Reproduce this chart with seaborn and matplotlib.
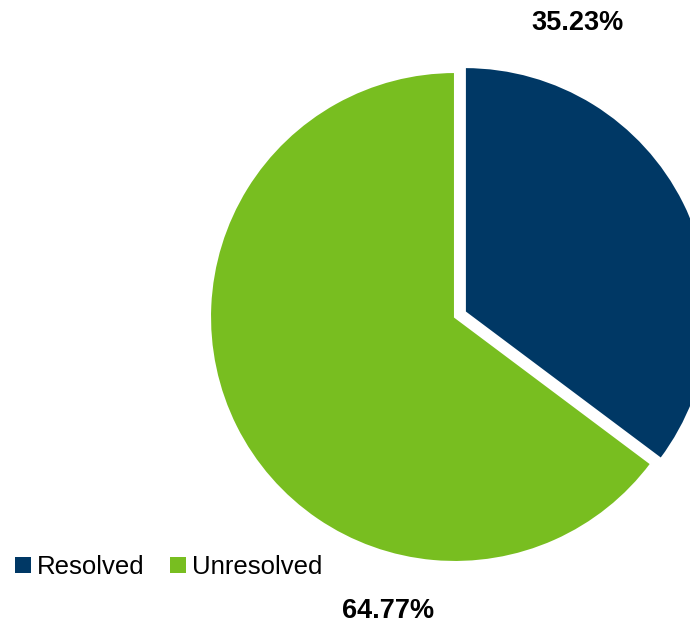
import matplotlib
matplotlib.use("Agg")
import matplotlib.pyplot as plt
from matplotlib.patches import Patch
import seaborn as sns

# Share of cases by status
categories = ["Resolved", "Unresolved"]
shares = [35.23, 64.77]
value_labels = ["35.23%", "64.77%"]
colors = ["#003865", "#78BE20"]

sns.set_theme(style="white")
plt.rcParams["font.family"] = ["Liberation Sans", "DejaVu Sans"]
plt.rcParams["text.color"] = "black"
palette = sns.color_palette(colors)

W, H = 690, 623
fig = plt.figure(figsize=(W / 100, H / 100), dpi=100)
ax = fig.add_axes([0, 0, 1, 1])

# pie centre and radius in pixels
cx, cy, r = 455, 317, 245
ax.pie(shares, colors=palette, startangle=90, counterclock=False,
       explode=[0.045, 0], radius=1,
       wedgeprops=dict(edgecolor="white", linewidth=1.5))
ax.set_aspect("auto")
ax.set_xlim(-cx / r, (W - cx) / r)
ax.set_ylim(-(H - cy) / r, cy / r)
ax.axis("off")

# value labels
fig.text(577 / W, 1 - 23 / H, value_labels[0], ha="center", va="center",
         fontsize=19.5, fontweight="bold", color="black")
fig.text(388 / W, 1 - 611 / H, value_labels[1], ha="center", va="center",
         fontsize=19.5, fontweight="bold", color="black")

handles = [Patch(facecolor=c, edgecolor="none") for c in palette]
fig.legend(handles, categories, loc="center left",
           bbox_to_anchor=(5 / W, 1 - 567 / H), ncol=2, frameon=False,
           fontsize=18.5, handlelength=0.6, handleheight=0.6,
           handletextpad=0.25, columnspacing=1.0, borderaxespad=0,
           labelcolor="black")

fig.savefig("out.png", dpi=100)
